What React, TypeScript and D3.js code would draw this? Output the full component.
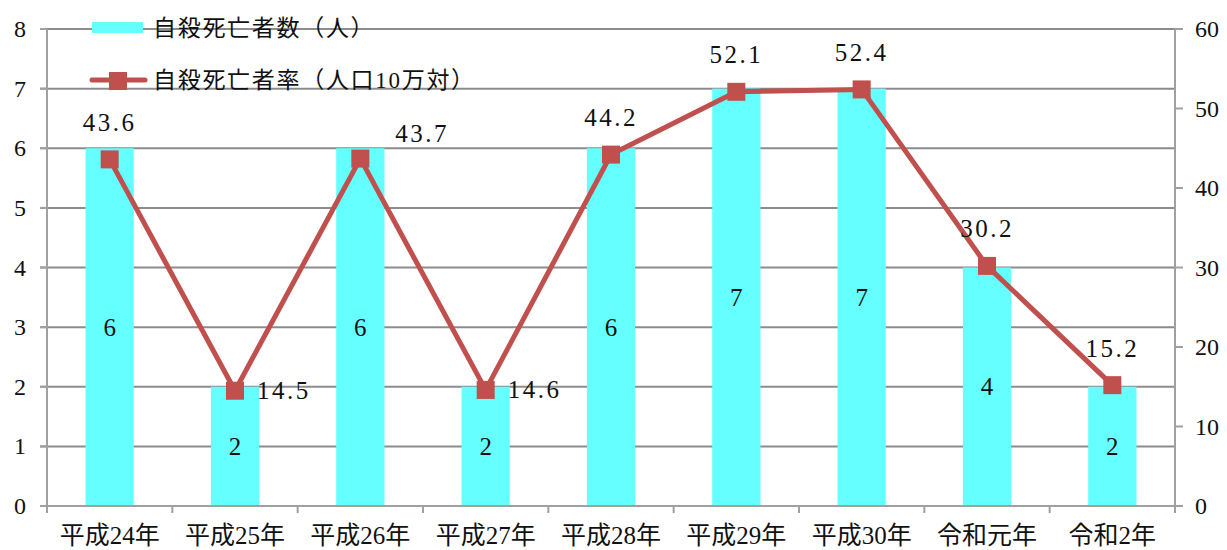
import React from 'react';
import * as d3 from 'd3';

const categories = ['平成24年', '平成25年', '平成26年', '平成27年', '平成28年', '平成29年', '平成30年', '令和元年', '令和2年'];
const deaths = [6, 2, 6, 2, 6, 7, 7, 4, 2];
const rates = [43.6, 14.5, 43.7, 14.6, 44.2, 52.1, 52.4, 30.2, 15.2];
const rateLabelPlacement = ['top', 'right', 'topright', 'right', 'top', 'top', 'top', 'top', 'top'];
const leftTicks = [0, 1, 2, 3, 4, 5, 6, 7, 8];
const rightTicks = [0, 10, 20, 30, 40, 50, 60];
const legendBar = '自殺死亡者数（人）';
const legendLine = '自殺死亡者率（人口10万対）';

const W = 1227;
const H = 550;
const left = 47;
const right = 1175;
const top = 29;
const bottom = 506;

const FONT = "'Liberation Serif', 'Times New Roman', 'DejaVu Serif', 'Noto Sans CJK JP', serif";
const BAR = '#66FFFF';
const LINE = '#C0504D';
const GRID = '#8C8C8C';
const AXIS = '#A0A0A0';

const txt = (size: number, extra: React.CSSProperties = {}): React.CSSProperties => ({
  fontFamily: FONT,
  fontSize: size,
  ...extra,
});

export default function App() {
  const x = d3.scaleBand<string>().domain(categories).range([left, right]).padding(0);
  const yL = d3.scaleLinear().domain([0, 8]).range([bottom, top]);
  const yR = d3.scaleLinear().domain([0, 60]).range([bottom, top]);
  const bw = x.bandwidth() * 0.385;
  const cx = (c: string) => (x(c) as number) + x.bandwidth() / 2;
  const linePath = d3
    .line<number>()
    .x((_, i) => cx(categories[i]))
    .y((d) => yR(d))(rates) as string;
  const ms = 18;
  const boundaries = [...categories.map((c) => x(c) as number), right];

  return (
    <svg width={W} height={H} style={{ position: 'absolute', left: 0, top: 0, background: '#fff' }}>
      {leftTicks.map((t) => (
        <line key={'g' + t} x1={left - 7} x2={right} y1={yL(t)} y2={yL(t)} stroke={GRID} strokeWidth={2} />
      ))}
      {deaths.map((d, i) => (
        <rect key={'b' + i} x={cx(categories[i]) - bw / 2} y={yL(d)} width={bw} height={yL(0) - yL(d)} fill={BAR} />
      ))}
      <line x1={left} x2={left} y1={top} y2={bottom + 7} stroke={AXIS} strokeWidth={2} />
      <line x1={right} x2={right} y1={top} y2={bottom + 7} stroke={AXIS} strokeWidth={2} />
      <line x1={left - 7} x2={right} y1={bottom} y2={bottom} stroke={AXIS} strokeWidth={2} />
      {leftTicks.map((t) => (
        <g key={'lt' + t}>
          <line x1={left - 7} x2={left} y1={yL(t)} y2={yL(t)} stroke={AXIS} strokeWidth={2} />
          <text x={26} y={yL(t)} textAnchor="end" dominantBaseline="central" style={txt(24)} fill="#111">
            {t}
          </text>
        </g>
      ))}
      {rightTicks.map((t) => (
        <g key={'rt' + t}>
          <line x1={right} x2={right + 8} y1={yR(t)} y2={yR(t)} stroke={AXIS} strokeWidth={2} />
          <text x={1195} y={yR(t)} textAnchor="start" dominantBaseline="central" style={txt(24)} fill="#111">
            {t}
          </text>
        </g>
      ))}
      {boundaries.map((b, i) => (
        <line key={'xt' + i} x1={b} x2={b} y1={bottom} y2={bottom + 7} stroke={AXIS} strokeWidth={2} />
      ))}
      {categories.map((c) => (
        <text key={'xl' + c} x={cx(c)} y={535} textAnchor="middle" dominantBaseline="central" style={txt(25)} fill="#111">
          {c}
        </text>
      ))}
      {deaths.map((d, i) => (
        <text
          key={'bl' + i}
          x={cx(categories[i])}
          y={(yL(d) + yL(0)) / 2}
          textAnchor="middle"
          dominantBaseline="central"
          style={txt(25)}
          fill="#111"
        >
          {d}
        </text>
      ))}
      <path d={linePath} fill="none" stroke={LINE} strokeWidth={5} strokeLinejoin="round" />
      {rates.map((r, i) => (
        <rect key={'m' + i} x={cx(categories[i]) - ms / 2} y={yR(r) - ms / 2} width={ms} height={ms} fill={LINE} />
      ))}
      {rates.map((r, i) => {
        const px = cx(categories[i]);
        const py = yR(r);
        const p = rateLabelPlacement[i];
        let tx = px;
        let ty = py - 37;
        let anchor: 'middle' | 'start' = 'middle';
        if (p === 'right') {
          tx = px + 22;
          ty = py;
          anchor = 'start';
        } else if (p === 'topright') {
          tx = px + 35;
          ty = py - 25;
          anchor = 'start';
        }
        return (
          <text
            key={'rl' + i}
            x={tx}
            y={ty}
            textAnchor={anchor}
            dominantBaseline="central"
            style={txt(25, { letterSpacing: 2.5 })}
            fill="#111"
          >
            {r.toFixed(1)}
          </text>
        );
      })}
      <rect x={92} y={22} width={51} height={11} fill={BAR} />
      <text x={153} y={28} dominantBaseline="central" style={txt(23, { letterSpacing: 1.7 })} fill="#111">
        {legendBar}
      </text>
      <line x1={92} x2={145} y1={80} y2={80} stroke={LINE} strokeWidth={5} strokeLinecap="round" />
      <rect x={118 - ms / 2} y={81 - ms / 2} width={ms} height={ms} fill={LINE} />
      <text x={153} y={80} dominantBaseline="central" style={txt(23, { letterSpacing: 1.7 })} fill="#111">
        {legendLine}
      </text>
    </svg>
  );
}
